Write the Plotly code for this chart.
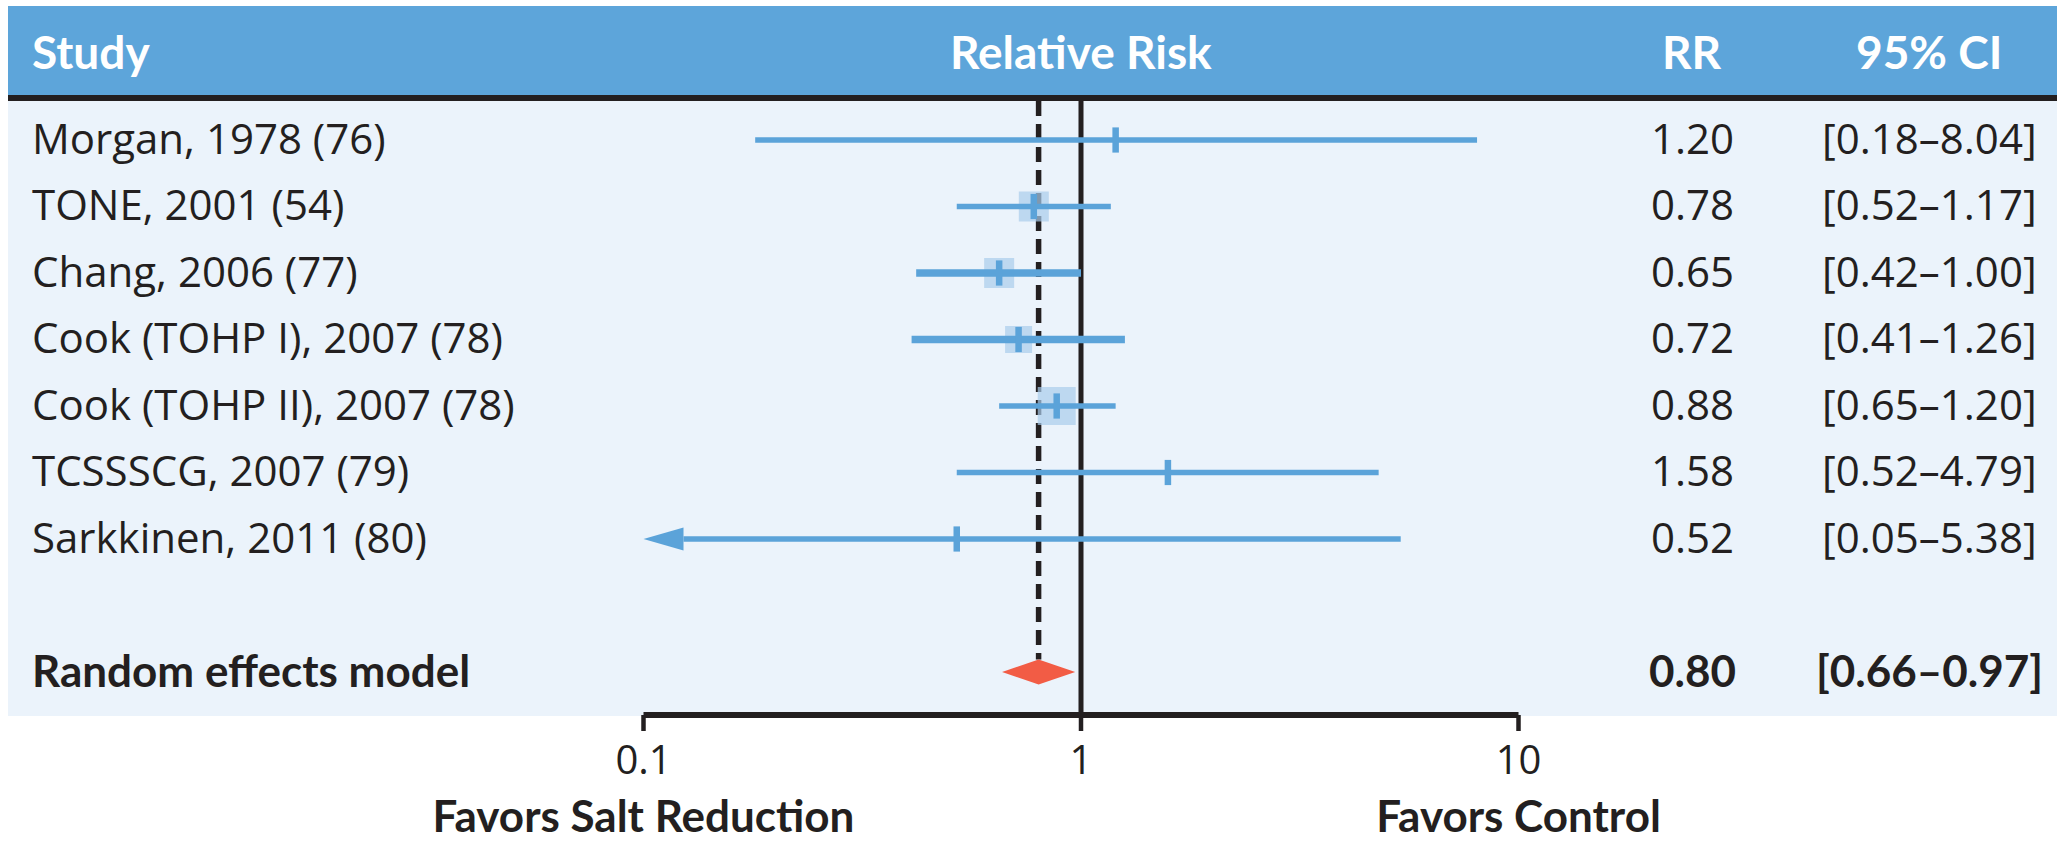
import plotly.graph_objects as go

# ---------------- data ----------------
studies = ["Morgan, 1978 (76)", "TONE, 2001 (54)", "Chang, 2006 (77)", "Cook (TOHP I), 2007 (78)",
           "Cook (TOHP II), 2007 (78)", "TCSSSCG, 2007 (79)", "Sarkkinen, 2011 (80)"]
rr = [1.20, 0.78, 0.65, 0.72, 0.88, 1.58, 0.52]
ci_lo = [0.18, 0.52, 0.42, 0.41, 0.65, 0.52, 0.05]
ci_hi = [8.04, 1.17, 1.00, 1.26, 1.20, 4.79, 5.38]
rr_text = ["1.20", "0.78", "0.65", "0.72", "0.88", "1.58", "0.52"]
ci_text = ["[0.18–8.04]", "[0.52–1.17]", "[0.42–1.00]", "[0.41–1.26]", "[0.65–1.20]", "[0.52–4.79]", "[0.05–5.38]"]
weight_box = [0, 30, 30, 27, 38, 0, 0]      # square size (px) per study
line_w = [5.5, 5.5, 7.5, 7.5, 5.5, 5.5, 5.5]

pooled_label = "Random effects model"
pooled_rr, pooled_lo, pooled_hi = 0.80, 0.66, 0.97
pooled_rr_text, pooled_ci_text = "0.80", "[0.66–0.97]"

tick_vals = [0.1, 1, 10]
tick_text = ["0.1", "1", "10"]
header = ["Study", "Relative Risk", "RR", "95% CI"]
favors = ["Favors Salt Reduction", "Favors Control"]

# ---------------- layout constants ----------------
W, H = 2057, 846
PX_ONE, PX_DEC = 1081, 437.5
ROW0, ROW_H = 140, 66.5
POOLED_ROW = 8

def ypx(p):
    return (p - ROW0) / ROW_H

HEAD_BLUE = "#5DA5DA"
BODY = "#EBF3FB"
LINE_BLUE = "#5BA3D9"
SQ = "#A9CCEB"
DARK = "#231F20"
RED = "#F25C45"
REG = "Open Sans"
BOLD = "Lato"

fig = go.Figure()

# reference lines
fig.add_trace(go.Scatter(x=[1, 1], y=[ypx(101), ypx(716)], mode="lines",
                         line=dict(color=DARK, width=5), hoverinfo="skip"))
dh = 12.5 / ROW_H
fig.add_trace(go.Scatter(x=[pooled_rr, pooled_rr], y=[ypx(101), POOLED_ROW - dh], mode="lines",
                         line=dict(color=DARK, width=5.5, dash="15px,8px"), hoverinfo="skip"))

# study squares
fig.add_trace(go.Scatter(x=[r for r, s in zip(rr, weight_box) if s > 0],
                         y=[i for i, s in enumerate(weight_box) if s > 0],
                         mode="markers",
                         marker=dict(symbol="square", size=[s for s in weight_box if s > 0],
                                     color=SQ, line=dict(width=0)), hoverinfo="skip"))

xmin = tick_vals[0]
arrow_len = 40 / PX_DEC
arrow_half = 11.5 / ROW_H
for i in range(len(studies)):
    lo = ci_lo[i]
    if lo < xmin:
        base = xmin * 10 ** arrow_len
        fig.add_trace(go.Scatter(x=[xmin, base, base, xmin], y=[i, i - arrow_half, i + arrow_half, i],
                                 mode="lines", fill="toself", fillcolor=LINE_BLUE,
                                 line=dict(width=0, color=LINE_BLUE), hoverinfo="skip"))
        lo = base
    fig.add_trace(go.Scatter(x=[lo, ci_hi[i]], y=[i, i], mode="lines",
                             line=dict(color=LINE_BLUE, width=line_w[i]), hoverinfo="skip"))

# point ticks
fig.add_trace(go.Scatter(x=rr, y=list(range(len(rr))), mode="markers",
                         marker=dict(symbol="line-ns", size=18,
                                     line=dict(width=6.5, color=LINE_BLUE)), hoverinfo="skip"))

# pooled diamond
fig.add_trace(go.Scatter(x=[pooled_lo, pooled_rr, pooled_hi, pooled_rr, pooled_lo],
                         y=[POOLED_ROW, POOLED_ROW - dh, POOLED_ROW, POOLED_ROW + dh, POOLED_ROW],
                         mode="lines", fill="toself", fillcolor=RED, line=dict(width=0, color=RED),
                         hoverinfo="skip"))

# axis
ax_y = ypx(715)
fig.add_trace(go.Scatter(x=[tick_vals[0], tick_vals[-1]], y=[ax_y, ax_y], mode="lines",
                         line=dict(color=DARK, width=6), hoverinfo="skip"))
for t in tick_vals:
    fig.add_trace(go.Scatter(x=[t, t], y=[ax_y, ypx(731)], mode="lines",
                             line=dict(color=DARK, width=4.5), hoverinfo="skip"))
fig.add_trace(go.Scatter(x=tick_vals, y=[ypx(764)] * len(tick_vals), mode="text", text=tick_text,
                         textfont=dict(family=REG, size=40, color=DARK), hoverinfo="skip"))
fig.add_trace(go.Scatter(x=[tick_vals[0], tick_vals[-1]], y=[ypx(821)] * 2, mode="text", text=favors,
                         textfont=dict(family=BOLD, size=44, color=DARK), hoverinfo="skip",
                         texttemplate="<b>%{text}</b>"))

# backgrounds
shapes = [
    dict(type="rect", xref="paper", yref="paper", x0=8 / W, x1=1, y0=1 - 95 / H, y1=1 - 6 / H,
         fillcolor=HEAD_BLUE, line=dict(width=0), layer="below"),
    dict(type="rect", xref="paper", yref="paper", x0=8 / W, x1=1, y0=1 - 101 / H, y1=1 - 95 / H,
         fillcolor=DARK, line=dict(width=0), layer="below"),
    dict(type="rect", xref="paper", yref="paper", x0=8 / W, x1=1, y0=1 - 716 / H, y1=1 - 101 / H,
         fillcolor=BODY, line=dict(width=0), layer="below"),
]

ann = []
col_x = [30, PX_ONE, 1692, 1929]
anchors = ["left", "center", "center", "center"]
for txt, cx, a in zip(header, col_x, anchors):
    ann.append(dict(text="<b>" + txt + "</b>", x=cx / W, xref="paper", y=1 - 52 / H, yref="paper",
                    xanchor=a, yanchor="middle", showarrow=False,
                    font=dict(family=BOLD, size=46, color="white")))
for i in range(len(studies)):
    for txt, cx, a in zip([studies[i], rr_text[i], ci_text[i]], [col_x[0], col_x[2], col_x[3]],
                          ["left", "center", "center"]):
        ann.append(dict(text=txt, x=cx / W, xref="paper", y=i, yref="y", xanchor=a, yanchor="middle",
                        yshift=3, showarrow=False, font=dict(family=REG, size=42, color=DARK)))
for txt, cx, a in zip([pooled_label, pooled_rr_text, pooled_ci_text], [col_x[0], col_x[2], col_x[3]],
                      ["left", "center", "center"]):
    ann.append(dict(text="<b>" + txt + "</b>", x=cx / W, xref="paper", y=POOLED_ROW, yref="y",
                    xanchor=a, yanchor="middle", yshift=2, showarrow=False,
                    font=dict(family=BOLD, size=44, color=DARK)))

fig.update_layout(
    width=W, height=H, margin=dict(l=0, r=0, t=0, b=0),
    paper_bgcolor="white", plot_bgcolor="white",
    showlegend=False, hovermode=False,
    shapes=shapes, annotations=ann,
    xaxis=dict(type="log", range=[(0 - PX_ONE) / PX_DEC, (W - PX_ONE) / PX_DEC], visible=False,
               domain=[0, 1], fixedrange=True),
    yaxis=dict(range=[ypx(H), ypx(0)], visible=False, domain=[0, 1], fixedrange=True),
)
fig.write_html("out.html", config={"displayModeBar": False},
               post_script="document.body.style.margin='0px';document.body.style.overflow='hidden';")
